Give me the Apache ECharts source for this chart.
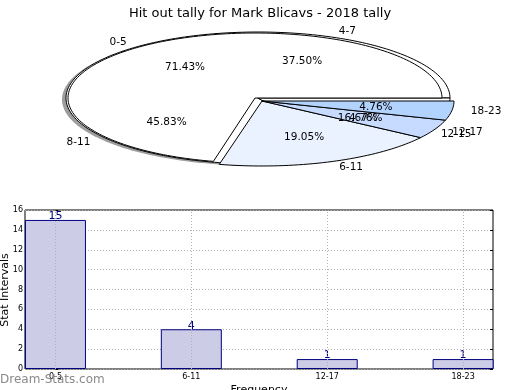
<!DOCTYPE html>
<html>
<head>
<meta charset="utf-8">
<script src="https://cdn.jsdelivr.net/npm/echarts@6/dist/echarts.min.js"></script>
<style>html,body{margin:0;padding:0;background:#fff}#c{width:520px;height:390px}</style>
</head>
<body>
<div id="c"></div>
<script>
// ---- data ----
const pieCatsA = ['0-5', '6-11', '12-17', '18-23'];
const pieValsA = [15, 4, 1, 1];
const pieCatsB = ['4-7', '8-11', '12-15'];
const pieValsB = [9, 11, 4];
const barCats = ['0-5', '6-11', '12-17', '18-23'];
const barVals = [15, 4, 1, 1];
const yTicks = [0, 2, 4, 6, 8, 10, 12, 14, 16];

// ---- layout / style ----
const FONT = 'DejaVu Sans';
const layoutA = {
  centers: [[255, 98], [262, 101], [262, 101], [262, 101]],
  rx: [187, 192, 192, 192], ry: [65, 65, 65, 65],
  colors: ['#ffffff', '#eaf1ff', '#c6dbff', '#b3d3ff'],
  z2: 10, shadow: false
};
const layoutB = {
  centers: [[258, 98], [258, 98], [258, 98]],
  rx: [192, 192, 192], ry: [66, 66, 66],
  colors: ['#ffffff', '#ffffff', '#ffffff'],
  z2: 0, shadow: true
};

function sectorPts(cx, cy, rx, ry, a0, a1) {
  const pts = [[cx, cy]];
  const n = Math.max(2, Math.ceil((a1 - a0) / (Math.PI / 120)));
  for (let k = 0; k <= n; k++) {
    const a = a0 + (a1 - a0) * k / n;
    pts.push([cx + rx * Math.cos(a), cy - ry * Math.sin(a)]);
  }
  return pts;
}

function pieRender(vals, cats, L) {
  const total = vals.reduce((a, b) => a + b, 0);
  const starts = [];
  let acc = 0;
  vals.forEach(v => { starts.push(acc); acc += v; });
  return function (params, api) {
    const i = params.dataIndex;
    const v = api.value(0);
    const a0 = starts[i] / total * 2 * Math.PI;
    const a1 = (starts[i] + v) / total * 2 * Math.PI;
    const am = (a0 + a1) / 2;
    const [cx, cy] = L.centers[i];
    const rx = L.rx[i], ry = L.ry[i];
    const children = [];
    if (L.shadow) {
      children.push({
        type: 'polygon', z2: L.z2 - 5,
        shape: { points: sectorPts(cx - 4, cy + 1.5, rx, ry, a0, a1) },
        style: { fill: 'rgba(77,77,77,0.55)', stroke: null }
      });
    }
    children.push({
      type: 'polygon', z2: L.z2,
      shape: { points: sectorPts(cx, cy, rx, ry, a0, a1) },
      style: { fill: L.colors[i], stroke: '#000', lineWidth: 1, lineJoin: 'miter' }
    });
    const c = Math.cos(am), s = Math.sin(am);
    children.push({
      type: 'text', z2: 1000,
      x: cx + 1.1 * rx * c, y: cy - 1.1 * ry * s,
      style: { text: cats[i], fill: '#000', font: '10.5px "' + FONT + '"',
        align: c < 0 ? 'right' : 'left', verticalAlign: 'middle' }
    });
    children.push({
      type: 'text', z2: 1000,
      x: cx + 0.6 * rx * c, y: cy - 0.6 * ry * s,
      style: { text: (v / total * 100).toFixed(2) + '%', fill: '#000', font: '10.5px "' + FONT + '"',
        align: 'center', verticalAlign: 'middle' }
    });
    return { type: 'group', children };
  };
}

const chart = echarts.init(document.getElementById('c'), null, { renderer: 'canvas' });
chart.setOption({
  animation: false,
  backgroundColor: '#fff',
  textStyle: { fontFamily: FONT },
  title: {
    text: 'Hit out tally for Mark Blicavs - 2018 tally',
    left: 'center', top: 2,
    textStyle: { fontFamily: FONT, fontSize: 13, fontWeight: 'normal', color: '#000' }
  },
  graphic: [{
    type: 'text', left: 0, top: 374, z: 100,
    style: { text: 'Dream-Stats.com', fill: '#8a8a8a', font: '12px "' + FONT + '"' }
  }, {
    type: 'text', x: 5, y: 290, rotation: Math.PI / 2, z: 100,
    style: { text: 'Stat Intervals', fill: '#000', font: '11px "' + FONT + '"',
      align: 'center', verticalAlign: 'middle' }
  }],
  grid: {
    left: 25, right: 27, top: 210, bottom: 21,
    outerBoundsMode: 'none', containLabel: false,
    show: true, borderColor: '#000', borderWidth: 1, backgroundColor: 'transparent'
  },
  xAxis: {
    type: 'value', min: -0.224, max: 3.22,
    name: 'Frequency', nameLocation: 'middle', nameGap: 16,
    nameTextStyle: { fontSize: 11, color: '#000' },
    axisLine: { show: false },
    axisTick: { show: true, inside: true, length: 3, lineStyle: { color: '#000' }, customValues: [0, 1, 2, 3] },
    axisLabel: { fontSize: 8, color: '#000', margin: 4, customValues: [0, 1, 2, 3],
      formatter: v => barCats[Math.round(v)] },
    splitLine: { show: false }
  },
  yAxis: [{
    type: 'value', min: 0, max: 16, interval: 2,
    axisLine: { show: false },
    axisTick: { show: true, inside: true, length: 3, lineStyle: { color: '#000' } },
    axisLabel: { fontSize: 8, color: '#000', margin: 2 },
    splitLine: { show: true, lineStyle: { color: '#b0b0b0', type: [1, 2], width: 1 } }
  }, {
    type: 'value', min: 0, max: 16, interval: 2, position: 'right',
    axisLine: { show: false },
    axisTick: { show: true, inside: true, length: 3, lineStyle: { color: '#000' } },
    axisLabel: { show: false },
    splitLine: { show: false }
  }],
  series: [
    {
      type: 'custom', coordinateSystem: 'none', z: 2,
      renderItem: pieRender(pieValsB, pieCatsB, layoutB),
      data: pieValsB.map(v => [v]), silent: true
    },
    {
      type: 'custom', coordinateSystem: 'none', z: 2,
      renderItem: pieRender(pieValsA, pieCatsA, layoutA),
      data: pieValsA.map(v => [v]), silent: true
    },
    {
      type: 'bar', xAxisIndex: 0, yAxisIndex: 0,
      data: barVals.map((v, i) => [i, v]),
      barWidth: 61,
      itemStyle: { color: '#ccccE6', borderColor: '#000080', borderWidth: 1 },
      label: { show: true, position: 'top', distance: -2, color: '#000080', fontSize: 11,
        formatter: p => String(p.value[1]) },
      markLine: {
        silent: true, symbol: 'none', label: { show: false },
        lineStyle: { color: '#b0b0b0', type: [1, 2], width: 1 },
        data: [0, 1, 2, 3].map(x => ({ xAxis: x }))
      }
    }
  ]
});
</script>
</body>
</html>
